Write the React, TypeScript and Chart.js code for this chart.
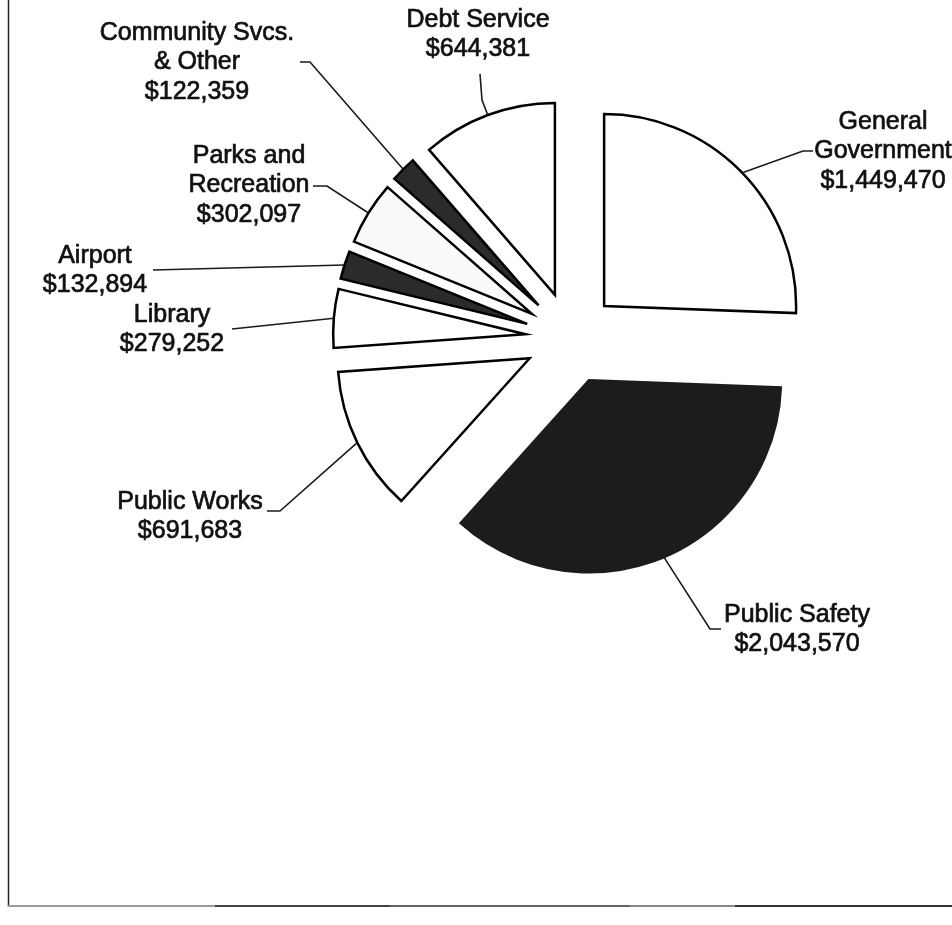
import React, { useEffect, useRef } from "react";
import { Chart, registerables, ArcElement } from "chart.js";

Chart.register(...registerables);

// ---- data ----
const categories: string[][] = [
  ["General", "Government"],
  ["Public Safety"],
  ["Public Works"],
  ["Library"],
  ["Airport"],
  ["Parks and", "Recreation"],
  ["Community Svcs.", "& Other"],
  ["Debt Service"],
];
const amounts: number[] = [1449470, 2043570, 691683, 279252, 132894, 302097, 122359, 644381];

// ---- styling / layout ----
const fills = ["#ffffff", "#1c1c1c", "#ffffff", "#ffffff", "#2b2b2b", "#fafafa", "#2b2b2b", "#ffffff"];
const strokes = ["#000", "#1c1c1c", "#000", "#000", "#000", "#000", "#000", "#000"];
// label centre (first line) per slice
const labelPos: number[][] = [
  [883, 122],
  [797, 615],
  [190, 502],
  [172, 315],
  [95, 256],
  [249, 156],
  [197, 33],
  [478, 20],
];
// leader line points after the arc point
const leaderPts: number[][][] = [
  [[803, 151], [813, 151]],
  [[710, 629], [721, 629]],
  [[280, 511], [267, 511]],
  [[232, 329]],
  [[153, 270]],
  [[327, 186], [313, 186]],
  [[310, 62], [300, 62]],
  [[482, 100], [480, 74]],
];
const FONT = "25px 'Liberation Sans', Arial, sans-serif";
const LINE_H = 29.5;

// Exploded wedge drawing: translate each wedge fully along its bisector by `offset`
(ArcElement.prototype as any).draw = function (ctx: CanvasRenderingContext2D) {
  const { x, y, startAngle, endAngle, outerRadius } = this as any;
  const o: any = (this as any).options;
  const mid = (startAngle + endAngle) / 2;
  const off = o.offset || 0;
  const cx = x + Math.cos(mid) * off;
  const cy = y + Math.sin(mid) * off;
  ctx.save();
  ctx.beginPath();
  ctx.moveTo(cx, cy);
  ctx.arc(cx, cy, outerRadius, startAngle, endAngle);
  ctx.closePath();
  ctx.fillStyle = o.backgroundColor;
  ctx.fill();
  if (o.borderWidth > 0) {
    ctx.lineWidth = o.borderWidth;
    ctx.strokeStyle = o.borderColor;
    ctx.lineJoin = "miter";
    ctx.stroke();
  }
  ctx.restore();
};

const fmt = (v: number) => "$" + v.toLocaleString("en-US");

const framePlugin = {
  id: "frame",
  beforeDraw(chart: any) {
    const ctx = chart.ctx as CanvasRenderingContext2D;
    ctx.save();
    ctx.fillStyle = "#ffffff";
    ctx.fillRect(0, 0, chart.width, chart.height);
    ctx.strokeStyle = "#222";
    ctx.lineWidth = 1.5;
    ctx.beginPath();
    ctx.moveTo(8.5, 0);
    ctx.lineTo(8.5, 907);
    ctx.stroke();
    const segs: [number, number, string][] = [
      [8, 215, "#999"],
      [215, 390, "#444"],
      [390, 630, "#666"],
      [630, 735, "#888"],
      [735, 952, "#333"],
    ];
    ctx.lineWidth = 1.8;
    segs.forEach(([a, b, c]) => {
      ctx.strokeStyle = c;
      ctx.beginPath();
      ctx.moveTo(a, 906);
      ctx.lineTo(b, 906);
      ctx.stroke();
    });
    ctx.restore();
  },
};

const labelPlugin = {
  id: "labels",
  afterDatasetsDraw(chart: any) {
    const ctx = chart.ctx as CanvasRenderingContext2D;
    const meta = chart.getDatasetMeta(0);
    ctx.save();
    meta.data.forEach((arc: any, i: number) => {
      const off = arc.options.offset || 0;
      const mid = (arc.startAngle + arc.endAngle) / 2;
      const r = arc.outerRadius + off;
      const sx = arc.x + Math.cos(mid) * r;
      const sy = arc.y + Math.sin(mid) * r;
      ctx.strokeStyle = "#1a1a1a";
      ctx.lineWidth = 1.6;
      ctx.beginPath();
      ctx.moveTo(sx, sy);
      leaderPts[i].forEach((p) => ctx.lineTo(p[0], p[1]));
      ctx.stroke();
      const lines = [...categories[i], fmt(amounts[i])];
      ctx.fillStyle = "#111";
      ctx.strokeStyle = "#111";
      ctx.lineWidth = 0.7;
      ctx.font = FONT;
      ctx.textAlign = "center";
      ctx.textBaseline = "middle";
      lines.forEach((t, k) => {
        const ty = labelPos[i][1] + k * LINE_H;
        ctx.fillText(t, labelPos[i][0], ty);
        ctx.strokeText(t, labelPos[i][0], ty);
      });
    });
    ctx.restore();
  },
};

export default function App() {
  const ref = useRef<HTMLCanvasElement | null>(null);
  useEffect(() => {
    if (!ref.current) return;
    const chart = new Chart(ref.current, {
      type: "pie",
      data: {
        labels: categories.map((c) => c.join(" ")),
        datasets: [
          {
            data: amounts,
            backgroundColor: fills,
            borderColor: strokes,
            borderWidth: 2.5,
            offset: 46,
            radius: 192,
          } as any,
        ],
      },
      options: {
        responsive: false,
        animation: false,
        events: [],
        devicePixelRatio: 1,
        rotation: 0,
        layout: { padding: { left: 190, right: 0, top: 0, bottom: 249 } },
        plugins: {
          legend: { display: false },
          tooltip: { enabled: false },
          title: { display: false },
        },
      } as any,
      plugins: [framePlugin, labelPlugin],
    });
    return () => chart.destroy();
  }, []);
  return (
    <div style={{ position: "absolute", left: 0, top: 0, width: 952, height: 925, background: "#fff" }}>
      <canvas ref={ref} width={952} height={925} />
    </div>
  );
}
